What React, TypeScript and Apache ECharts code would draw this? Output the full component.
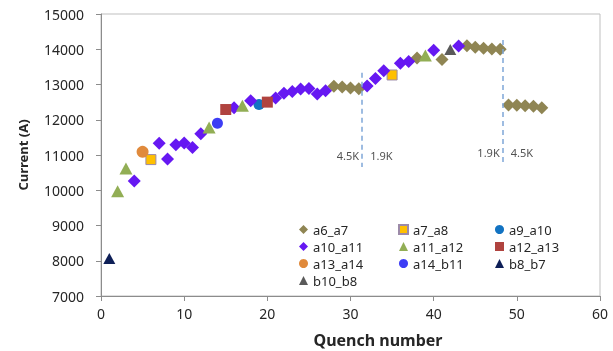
import React, { useEffect, useRef } from "react";
import * as echarts from "echarts";

// ---- data ----
const a6_a7_x = [28, 29, 30, 31, 38, 41, 44, 45, 46, 47, 48, 49, 50, 51, 52, 53];
const a6_a7_y = [12950, 12930, 12900, 12880, 13750, 13710, 14100, 14060, 14030, 14010, 14000, 12420, 12410, 12400, 12380, 12340];
const a7_a8_x = [6, 35];
const a7_a8_y = [10870, 13270];
const a9_a10_x = [19];
const a9_a10_y = [12430];
const a10_a11_x = [4, 7, 8, 9, 10, 11, 12, 16, 18, 21, 22, 23, 24, 25, 26, 27, 32, 33, 34, 36, 37, 40, 43];
const a10_a11_y = [10260, 11330, 10885, 11290, 11340, 11210, 11600, 12340, 12540, 12620, 12750, 12800, 12870, 12890, 12730, 12820, 12960, 13170, 13390, 13600, 13650, 13970, 14090];
const a11_a12_x = [2, 3, 13, 17, 39];
const a11_a12_y = [9970, 10620, 11780, 12400, 13820];
const a12_a13_x = [15, 20];
const a12_a13_y = [12290, 12500];
const a13_a14_x = [5];
const a13_a14_y = [11090];
const a14_b11_x = [14];
const a14_b11_y = [11900];
const b8_b7_x = [1];
const b8_b7_y = [8065];
const b10_b8_x = [42];
const b10_b8_y = [13990];

// annotation lines (quench number, current top, current bottom)
const lineX = [31.4, 48.3];
const lineTop = [13330, 14260];
const lineBottom = [10660, 10800];
const labelY = [11000, 11070];
const leftLabels = ["4.5K", "1.9K"];
const rightLabels = ["1.9K", "4.5K"];

const xTicks = { min: 0, max: 60, interval: 10 };
const yTicks = { min: 7000, max: 15000, interval: 1000 };

const FONT = "Noto Sans";
const TEXT = "#262626";

function zip(xs: number[], ys: number[]) {
  return xs.map((x, i) => [x, ys[i]]);
}

export default function App() {
  const ref = useRef<HTMLDivElement>(null);
  useEffect(() => {
    if (!ref.current) return;
    const chart = echarts.init(ref.current, undefined, { renderer: "svg" });

    const mk = (name: string, xs: number[], ys: number[], symbol: string, size: any, color: string, extra: any = {}) => ({
      name,
      type: "scatter",
      data: zip(xs, ys),
      symbol,
      symbolSize: size,
      itemStyle: { color, opacity: 1, ...extra },
    });

    const series: any[] = [
      mk("a6_a7", a6_a7_x, a6_a7_y, "diamond", 13, "#8F8553"),
      mk("a7_a8", a7_a8_x, a7_a8_y, "rect", 10, "#FFC000", { borderColor: "#9C8AA8", borderWidth: 1 }),
      mk("a9_a10", a9_a10_x, a9_a10_y, "circle", 11, "#1273C2"),
      mk("a10_a11", a10_a11_x, a10_a11_y, "diamond", 13, "#6618F2"),
      mk("a11_a12", a11_a12_x, a11_a12_y, "triangle", [13, 12], "#92AE55"),
      mk("a12_a13", a12_a13_x, a12_a13_y, "rect", 11, "#B0433F"),
      mk("a13_a14", a13_a14_x, a13_a14_y, "circle", 12, "#E08A3C"),
      mk("a14_b11", a14_b11_x, a14_b11_y, "circle", 11, "#3D3DF5"),
      mk("b8_b7", b8_b7_x, b8_b7_y, "triangle", [12, 11], "#0E1F57"),
      mk("b10_b8", b10_b8_x, b10_b8_y, "triangle", [12, 11], "#5A5A5A"),
      {
        name: "annotLeft",
        type: "scatter",
        symbolSize: 0,
        silent: true,
        data: lineX.map((x, i) => ({ value: [x, labelY[i]], name: leftLabels[i] })),
        label: {
          show: true,
          position: "left",
          distance: 3,
          formatter: (p: any) => p.name,
          fontFamily: FONT,
          fontSize: 11,
          color: TEXT,
        },
        markLine: {
          silent: true,
          symbol: "none",
          label: { show: false },
          lineStyle: { color: "#7FA7D8", type: [5, 4], width: 1.5 },
          data: lineX.map((x, i) => [{ coord: [x, lineTop[i]] }, { coord: [x, lineBottom[i]] }]),
        },
      },
      {
        name: "annotRight",
        type: "scatter",
        symbolSize: 0,
        silent: true,
        data: lineX.map((x, i) => ({ value: [x, labelY[i]], name: rightLabels[i] })),
        label: {
          show: true,
          position: "right",
          distance: 8,
          formatter: (p: any) => p.name,
          fontFamily: FONT,
          fontSize: 11,
          color: TEXT,
        },
      },
    ];

    const legendBase = {
      orient: "vertical",
      top: 223,
      itemGap: 4,
      itemWidth: 9,
      itemHeight: 9,
      selectedMode: false,
      padding: 0,
      textStyle: { fontFamily: FONT, fontSize: 13, color: TEXT, lineHeight: 13 },
    };

    chart.setOption({
      animation: false,
      textStyle: { fontFamily: FONT },
      grid: {
        left: 101,
        right: 13,
        top: 14,
        bottom: 55,
        show: true,
        borderColor: "#BFBFBF",
        borderWidth: 1,
      },
      legend: [
        { ...legendBase, left: 299, data: ["a6_a7", "a10_a11", "a13_a14", "b10_b8"] },
        { ...legendBase, left: 398, data: ["a7_a8", "a11_a12", "a14_b11"] },
        { ...legendBase, left: 495, data: ["a9_a10", "a12_a13", "b8_b7"] },
      ],
      xAxis: {
        type: "value",
        min: xTicks.min,
        max: xTicks.max,
        interval: xTicks.interval,
        splitLine: { show: false },
        axisLine: { show: true, lineStyle: { color: "#8C8C8C" } },
        axisTick: { show: true, length: 5, lineStyle: { color: "#8C8C8C" } },
        axisLabel: { fontFamily: FONT, fontSize: 14, color: TEXT, margin: 10 },
      },
      yAxis: {
        type: "value",
        min: yTicks.min,
        max: yTicks.max,
        interval: yTicks.interval,
        name: "Current (A)",
        nameLocation: "middle",
        nameGap: 72,
        nameTextStyle: { fontFamily: FONT, fontSize: 13, fontWeight: "bold", color: TEXT },
        splitLine: { show: false },
        axisLine: { show: true, lineStyle: { color: "#8C8C8C" } },
        axisTick: { show: true, length: 5, lineStyle: { color: "#8C8C8C" } },
        axisLabel: {
          fontFamily: FONT,
          fontSize: 14,
          color: TEXT,
          margin: 17,
          formatter: (v: number) => String(v),
        },
      },
      graphic: [
        {
          type: "text",
          x: 378,
          y: 340,
          style: {
            text: "Quench number",
            fontFamily: FONT,
            fontSize: 16,
            fontWeight: "bold",
            fill: TEXT,
            textAlign: "center",
            textVerticalAlign: "middle",
          },
        },
      ],
      series,
    });
    return () => chart.dispose();
  }, []);
  return <div ref={ref} style={{ position: "fixed", left: 0, top: 0, width: 613, height: 351 }} />;
}
